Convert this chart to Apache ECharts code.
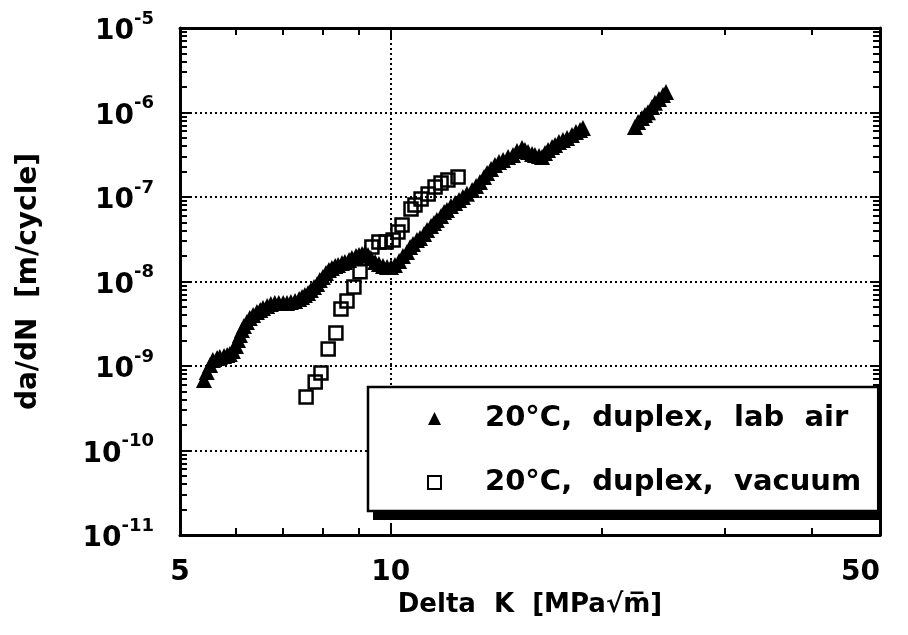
<!DOCTYPE html>
<html><head><meta charset="utf-8">
<script src="https://cdn.jsdelivr.net/npm/echarts@6/dist/echarts.min.js"></script>
<style>html,body{margin:0;padding:0;background:#fff}#c{width:908px;height:635px}</style>
</head><body><div id="c"></div>
<script>
// ---- data ----
const labAirName = '20°C,  duplex,  lab  air';
const vacuumName = '20°C,  duplex,  vacuum';

const labAirDK = [5.41,5.46,5.52,5.57,5.65,5.70,5.78,5.84,5.89,5.95,6.01,6.05,6.09,6.13,6.17,6.23,6.29,6.36,6.44,6.51,6.57,6.66,6.74,6.83,6.92,7.02,7.11,7.20,7.30,7.40,7.47,7.54,7.62,7.69,7.77,7.85,7.92,8.00,8.08,8.16,8.24,8.33,8.41,8.52,8.60,8.72,8.80,8.92,9.01,9.10,9.19,9.28,9.37,9.50,9.62,9.75,9.88,10.01,10.14,10.28,10.41,10.55,10.66,10.76,10.90,11.01,11.16,11.27,11.42,11.53,11.64,11.80,11.92,12.03,12.19,12.36,12.52,12.68,12.85,13.07,13.24,13.41,13.59,13.73,13.91,14.09,14.28,14.47,14.71,14.95,15.15,15.40,15.55,15.71,15.92,16.07,16.29,16.45,16.61,16.78,17.00,17.17,17.39,17.62,17.86,18.15,18.39,18.64,18.82,22.33,22.56,22.85,23.08,23.31,23.62,23.85,24.17,24.49,24.73];
const labAirRate = [6.83e-10,8.49e-10,1.03e-9,1.18e-9,1.24e-9,1.28e-9,1.31e-9,1.35e-9,1.39e-9,1.51e-9,1.73e-9,2.03e-9,2.33e-9,2.67e-9,2.98e-9,3.32e-9,3.70e-9,4.02e-9,4.36e-9,4.60e-9,4.86e-9,5.13e-9,5.42e-9,5.57e-9,5.57e-9,5.57e-9,5.57e-9,5.72e-9,5.88e-9,6.21e-9,6.56e-9,6.92e-9,7.31e-9,7.93e-9,8.61e-9,9.34e-9,1.04e-8,1.13e-8,1.26e-8,1.37e-8,1.44e-8,1.53e-8,1.57e-8,1.66e-8,1.70e-8,1.80e-8,1.90e-8,2.00e-8,2.06e-8,2.12e-8,2.17e-8,2.06e-8,1.90e-8,1.70e-8,1.61e-8,1.53e-8,1.48e-8,1.48e-8,1.57e-8,1.75e-8,2.00e-8,2.24e-8,2.56e-8,2.78e-8,3.10e-8,3.27e-8,3.65e-8,4.07e-8,4.54e-8,4.92e-8,5.35e-8,5.96e-8,6.65e-8,7.02e-8,7.83e-8,8.49e-8,9.22e-8,1.00e-7,1.09e-7,1.21e-7,1.35e-7,1.51e-7,1.73e-7,1.92e-7,2.15e-7,2.39e-7,2.60e-7,2.74e-7,2.98e-7,3.14e-7,3.50e-7,3.80e-7,3.60e-7,3.41e-7,3.23e-7,3.14e-7,3.06e-7,2.98e-7,3.32e-7,3.60e-7,3.91e-7,4.13e-7,4.48e-7,4.73e-7,4.99e-7,5.42e-7,5.88e-7,6.21e-7,6.56e-7,6.73e-7,7.72e-7,8.61e-7,9.34e-7,1.01e-6,1.16e-6,1.30e-6,1.44e-6,1.61e-6,1.75e-6];

const vacuumDK = [7.57,7.80,7.95,8.14,8.35,8.49,8.66,8.86,9.04,9.40,9.62,9.85,10.08,10.24,10.38,10.69,10.83,11.05,11.31,11.57,11.80,12.07,12.48];
const vacuumRate = [4.30e-10,6.47e-10,8.26e-10,1.59e-9,2.46e-9,4.73e-9,5.88e-9,8.61e-9,1.30e-8,2.56e-8,2.93e-8,2.93e-8,3.10e-8,3.85e-8,4.66e-8,7.21e-8,8.04e-8,9.47e-8,1.085e-7,1.31e-7,1.46e-7,1.59e-7,1.72e-7];

// ---- axes / ticks ----
const xTickLabels = [5, 10, 50];
const xMajorTicks = [10];
const xMinorTicks = [6, 7, 8, 9, 20, 30, 40];
const yTickValues = [1e-11, 1e-10, 1e-9, 1e-8, 1e-7, 1e-6, 1e-5];
const yTickExponents = ['-11', '-10', '-9', '-8', '-7', '-6', '-5'];
const yMajorTicks = [1e-10, 1e-9, 1e-8, 1e-7, 1e-6];
const yMinorTicks = [];
for (let k = -11; k <= -6; k++) for (let m = 2; m <= 9; m++) yMinorTicks.push(Number(m + 'e' + k));

const FONT = 'DejaVu Sans';
const frame = { show: true, lineStyle: { color: '#000', width: 3 } };
const tickStyle = { color: '#000', width: 2 };
const dotted = { show: true, lineStyle: { color: '#000', width: 2, type: [2, 3] } };

function xAx(pos, ticks, len, extra) {
  return Object.assign({
    type: 'log', logBase: 10, min: 5, max: 50, position: pos,
    axisLine: frame,
    axisTick: { show: true, inside: true, length: len, customValues: ticks, lineStyle: tickStyle },
    axisLabel: { show: false },
    splitLine: { show: false }
  }, extra || {});
}
function yAx(pos, ticks, len, extra) {
  return Object.assign({
    type: 'log', logBase: 10, min: 1e-11, max: 1e-5, position: pos,
    axisLine: frame,
    axisTick: { show: true, inside: true, length: len, customValues: ticks, lineStyle: tickStyle },
    axisLabel: { show: false },
    splitLine: { show: false }
  }, extra || {});
}

// legend box geometry (layout only)
const LG = { left: 368, top: 387, padL: 59, padR: 17, padT: 17, padB: 14, icon: 13, textPad: 39, font: 29, gap: 35 };
const lgW = 509;
const lgH = LG.padT + LG.font + LG.gap + LG.font + LG.padB;

const chart = echarts.init(document.getElementById('c'), null, { renderer: 'canvas' });
chart.setOption({
  animation: false,
  backgroundColor: '#fff',
  grid: { left: 180, top: 28, width: 700, height: 507, containLabel: false },
  graphic: [{
    type: 'rect', z: 3, silent: true,
    shape: { x: LG.left + 5, y: LG.top + 9, width: lgW, height: lgH },
    style: { fill: '#000' }
  }],
  xAxis: [
    xAx('bottom', xMajorTicks, 10, {
      axisLabel: { show: true, customValues: xTickLabels, formatter: v => String(Math.round(v)),
        fontFamily: FONT, fontWeight: 'bold', fontSize: 28, color: '#000', margin: 24, alignMaxLabel: 'right' },
      splitLine: dotted,
      name: 'Delta  K  [MPa√m\u0305]', nameLocation: 'middle', nameGap: 57,
      nameTextStyle: { fontFamily: FONT, fontWeight: 'bold', fontSize: 26, color: '#000' }
    }),
    xAx('bottom', xMinorTicks, 7, { axisLine: { show: false } }),
    xAx('top', xMajorTicks, 10),
    xAx('top', xMinorTicks, 7, { axisLine: { show: false } })
  ],
  yAxis: [
    yAx('left', yMajorTicks, 10, {
      axisLabel: { show: true, customValues: yTickValues, margin: 26,
        formatter: v => {
          const i = yTickValues.findIndex(t => Math.abs(Math.log10(t) - Math.log10(v)) < 1e-6);
          return '{b|10}{s|' + yTickExponents[i] + '}';
        },
        rich: {
          b: { fontFamily: FONT, fontWeight: 'bold', fontSize: 28, color: '#000', lineHeight: 36, verticalAlign: 'bottom' },
          s: { fontFamily: FONT, fontWeight: 'bold', fontSize: 18, color: '#000', lineHeight: 18, verticalAlign: 'top' }
        } },
      splitLine: dotted,
      name: 'da/dN  [m/cycle]', nameLocation: 'middle', nameGap: 137, nameRotate: 90,
      nameTextStyle: { fontFamily: FONT, fontWeight: 'bold', fontSize: 28, color: '#000' }
    }),
    yAx('left', yMinorTicks, 7, { axisLine: { show: false } }),
    yAx('right', yMajorTicks, 10),
    yAx('right', yMinorTicks, 7, { axisLine: { show: false } })
  ],
  legend: {
    orient: 'vertical', left: LG.left, top: LG.top, z: 4,
    padding: [LG.padT, LG.padR, LG.padB, LG.padL],
    itemWidth: LG.icon, itemHeight: LG.icon, itemGap: LG.gap,
    selectedMode: false,
    backgroundColor: '#fff', borderColor: '#000', borderWidth: 2.5,
    textStyle: { fontFamily: FONT, fontWeight: 'bold', fontSize: LG.font, lineHeight: LG.font, color: '#000',
      padding: [0, 0, 0, LG.textPad] },
    data: [labAirName, vacuumName]
  },
  series: [
    {
      type: 'scatter', name: labAirName, xAxisIndex: 0, yAxisIndex: 0,
      data: labAirDK.map((x, i) => [x, labAirRate[i]]),
      symbol: 'triangle', symbolSize: 16,
      itemStyle: { color: '#000', opacity: 1 }
    },
    {
      type: 'scatter', name: vacuumName, xAxisIndex: 0, yAxisIndex: 0,
      data: vacuumDK.map((x, i) => [x, vacuumRate[i]]),
      symbol: 'rect', symbolSize: 13,
      itemStyle: { color: 'rgba(255,255,255,0)', borderColor: '#000', borderWidth: 2.5, opacity: 1 }
    }
  ]
});
</script>
</body></html>
